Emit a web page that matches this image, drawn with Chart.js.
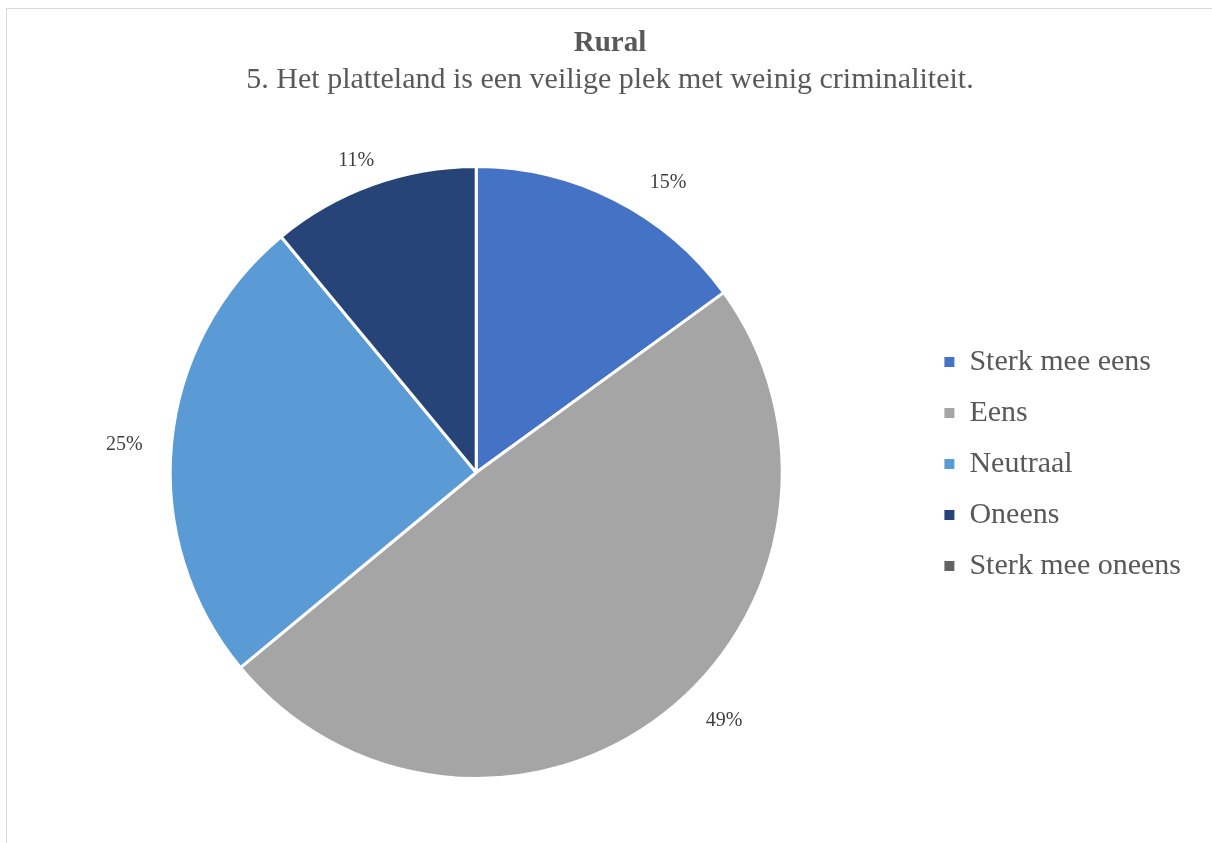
<!DOCTYPE html>
<html>
<head>
<meta charset="utf-8">
<title>Rural</title>
<script src="https://cdn.jsdelivr.net/npm/chart.js@4.4.1/dist/chart.umd.min.js"></script>
<style>
  html, body { margin: 0; padding: 0; background: #fff; overflow: hidden; }
  #frame {
    position: absolute; left: 6px; top: 8px;
    width: 1300px; height: 1000px;
    border: 1px solid #d9d9d9;
  }
  #wrap { position: absolute; left: 0; top: 0; width: 1212px; height: 843px; }
</style>
</head>
<body>
<div id="frame"></div>
<div id="wrap"><canvas id="pieChart" width="1212" height="843"></canvas></div>
<script>
// Survey answers (percent of respondents)
const categories = ['Sterk mee eens', 'Eens', 'Neutraal', 'Oneens', 'Sterk mee oneens'];
const percentages = [15, 49, 25, 11, 0];
const sliceColors = ['#4472C4', '#A5A5A5', '#5B9BD5', '#264478', '#636363'];

const titleText = 'Rural';
const subtitleText = '5. Het platteland is een veilige plek met weinig criminaliteit.';

const serif = "'Liberation Serif', 'Times New Roman', serif";

// small hand nudges for the percent labels (degrees around, px outward)
const labelTurn = [6.4, -7.3, -0.7, -1.2, 0];
const labelPush = [0, 0, 4, -11, 0];

// Percent labels just outside each slice
const outsideLabels = {
  id: 'outsideLabels',
  afterDatasetsDraw(chart) {
    const ctx = chart.ctx;
    const meta = chart.getDatasetMeta(0);
    const values = chart.data.datasets[0].data;
    ctx.save();
    ctx.font = '20px ' + serif;
    ctx.fillStyle = '#404040';
    ctx.textAlign = 'center';
    ctx.textBaseline = 'middle';
    meta.data.forEach((arc, i) => {
      if (!values[i]) return;
      const p = arc.getProps(['x', 'y', 'startAngle', 'endAngle', 'outerRadius'], true);
      const mid = (p.startAngle + p.endAngle) / 2 + labelTurn[i] * Math.PI / 180;
      const text = values[i] + '%';
      const w = ctx.measureText(text).width;
      const h = 20;
      const dx = Math.cos(mid), dy = Math.sin(mid);
      const dist = p.outerRadius + 24 + labelPush[i] + Math.abs(dx) * w / 2 + Math.abs(dy) * h / 2;
      ctx.fillText(text, p.x + dx * dist, p.y + dy * dist + 1);
    });
    ctx.restore();
  }
};

const ctx = document.getElementById('pieChart').getContext('2d');
new Chart(ctx, {
  type: 'pie',
  data: {
    labels: categories,
    datasets: [{
      data: percentages,
      backgroundColor: sliceColors,
      borderColor: '#ffffff',
      borderWidth: 3
    }]
  },
  options: {
    responsive: false,
    animation: false,
    radius: 306,
    layout: { padding: { left: 29, right: 21, top: 0, bottom: 0 } },
    plugins: {
      title: {
        display: true,
        text: titleText,
        color: '#595959',
        font: { family: serif, size: 29, weight: 'bold', lineHeight: 1 },
        padding: { top: 29.5, bottom: 0 }
      },
      subtitle: {
        display: true,
        text: subtitleText,
        color: '#595959',
        font: { family: serif, size: 30, lineHeight: 1.2 },
        padding: { top: 3.5, bottom: 4 }
      },
      legend: {
        position: 'right',
        // empty title only pushes the items down the column
        title: { display: true, text: '', font: { size: 1, lineHeight: 1 }, padding: { top: 84, bottom: 0 } },
        labels: {
          color: '#595959',
          font: { family: serif, size: 30 },
          boxWidth: 10,
          boxHeight: 10,
          padding: 21,
          generateLabels(chart) {
            const items = Chart.overrides.pie.plugins.legend.labels.generateLabels(chart);
            items.forEach(item => { item.lineWidth = 0; item.hidden = false; });
            return items;
          }
        }
      },
      tooltip: { enabled: false }
    }
  },
  plugins: [outsideLabels]
});
</script>
</body>
</html>
